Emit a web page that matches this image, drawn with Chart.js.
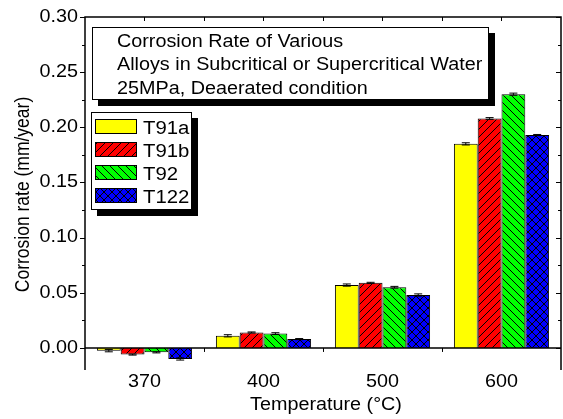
<!DOCTYPE html>
<html><head><meta charset="utf-8">
<script src="https://cdn.jsdelivr.net/npm/chart.js@4.4.0/dist/chart.umd.min.js"></script>
<style>html,body{margin:0;padding:0;background:#fff;overflow:hidden}#wrap{width:563px;height:419px}</style>
</head><body><div id="wrap"><canvas id="c" width="563" height="419"></canvas></div>
<script>
// ---- data ----
const categories = ['370', '400', '500', '600'];
const seriesNames = ['T91a', 'T91b', 'T92', 'T122'];
const T91a = [-0.0025, 0.011, 0.057, 0.185];
const T91b = [-0.006, 0.014, 0.059, 0.208];
const T92  = [-0.004, 0.013, 0.055, 0.230];
const T122 = [-0.010, 0.008, 0.048, 0.193];
const T91aErr = [0.001, 0.001, 0.001, 0.001];
const T91bErr = [0.0005, 0.0005, 0.0005, 0.0008];
const T92Err  = [0.0005, 0.0008, 0.0008, 0.001];
const T122Err = [0.001, 0.0005, 0.001, 0.0005];
const yTickValues = [0, 0.05, 0.10, 0.15, 0.20, 0.25, 0.30];
const yTickLabels = ['0.00', '0.05', '0.10', '0.15', '0.20', '0.25', '0.30'];
const boxLines = ['Corrosion Rate of Various', 'Alloys in Subcritical or Supercritical Water', '25MPa, Deaerated condition'];
const xTitle = 'Temperature (\u00B0C)';
const yTitle = 'Corrosion rate (mm/year)';

const FONT = '"Liberation Sans", Arial, sans-serif';
const SX = 1.13;

function mkPattern(bg, kind) {
  const s = 8, c = document.createElement('canvas');
  c.width = s; c.height = s;
  const g = c.getContext('2d');
  g.fillStyle = bg; g.fillRect(0, 0, s, s);
  g.fillStyle = '#000';
  for (let i = 0; i < s; i++) {
    if (kind === 'fwd' || kind === 'cross') g.fillRect(i, s - 1 - i, 1, 1);
    if (kind === 'back' || kind === 'cross') g.fillRect(i, i, 1, 1);
  }
  return g.createPattern(c, 'repeat');
}
const fills = [mkPattern('#FFFF00', null), mkPattern('#FF0000', 'fwd'), mkPattern('#00FF00', 'back'), mkPattern('#0000FF', 'cross')];
const values = [T91a, T91b, T92, T122];
const errs = [T91aErr, T91bErr, T92Err, T122Err];

function txt(ctx, s, x, y, size, align, base, rot) {
  ctx.save();
  ctx.translate(x, y);
  if (rot) { ctx.rotate(rot); ctx.scale(1, SX); } else { ctx.scale(SX, 1); }
  ctx.font = size + 'px ' + FONT;
  ctx.fillStyle = '#000';
  ctx.textAlign = align; ctx.textBaseline = base;
  ctx.fillText(s, 0, 0);
  ctx.restore();
}

const deco = {
  id: 'deco',
  afterDraw(chart) {
    const ctx = chart.ctx, a = chart.chartArea;
    const xs = chart.scales.x, ys = chart.scales.y;
    const L = a.left, R = a.right, T = a.top, B = a.bottom;
    const y0 = ys.getPixelForValue(0);
    ctx.save();
    ctx.strokeStyle = '#000';
    // error bars
    ctx.lineWidth = 1;
    chart.data.datasets.forEach((ds, di) => {
      const meta = chart.getDatasetMeta(di);
      meta.data.forEach((el, i) => {
        const v = values[di][i], e = errs[di][i];
        const yt = ys.getPixelForValue(v + e), yb = ys.getPixelForValue(v - e);
        ctx.beginPath();
        ctx.moveTo(el.x, yt); ctx.lineTo(el.x, yb);
        ctx.moveTo(el.x - 4, yt); ctx.lineTo(el.x + 4, yt);
        ctx.moveTo(el.x - 4, yb); ctx.lineTo(el.x + 4, yb);
        ctx.stroke();
      });
    });
    // frame
    ctx.lineWidth = 1.5;
    ctx.beginPath();
    ctx.moveTo(L, B); ctx.lineTo(L, T); ctx.lineTo(R, T); ctx.lineTo(R, B);
    ctx.moveTo(L, y0); ctx.lineTo(R, y0);
    ctx.stroke();
    ctx.lineWidth = 1;
    ctx.beginPath();
    for (let k = 0; k <= 12; k++) {
      const v = k * 0.025;
      const py = Math.round(ys.getPixelForValue(v)) + 0.5;
      const major = k % 2 === 0;
      ctx.moveTo(L, py); ctx.lineTo(L - (major ? 5 : 3), py);
      ctx.moveTo(R, py); ctx.lineTo(R - (major ? 5 : 3), py);
    }
    // x ticks
    const n = categories.length;
    const half = (xs.getPixelForValue(1) - xs.getPixelForValue(0)) / 2;
    for (let i = 0; i < n; i++) {
      const cx = xs.getPixelForValue(i);
      ctx.moveTo(cx, T); ctx.lineTo(cx, T + 4);
      if (i > 0) {
        const bx = Math.round(cx - half) + 0.5;
        ctx.moveTo(bx, T); ctx.lineTo(bx, T + 4);
        ctx.moveTo(bx, y0); ctx.lineTo(bx, y0 + 4);
      }
    }
    ctx.stroke();
    // tick labels
    yTickValues.forEach((v, i) => txt(ctx, yTickLabels[i], L - 7, ys.getPixelForValue(v), 17.5, 'right', 'middle'));
    categories.forEach((c, i) => txt(ctx, c, xs.getPixelForValue(i), 387, 17.5, 'center', 'alphabetic'));
    // axis titles
    txt(ctx, xTitle, (L + R) / 2 + 3, 410, 17.5, 'center', 'alphabetic');
    txt(ctx, yTitle, 24, (T + B) / 2 + 1, 17.5, 'center', 'middle', -Math.PI / 2);
    // annotation box
    ctx.fillStyle = '#000';
    ctx.fillRect(98, 33, 397, 73);
    ctx.fillStyle = '#fff';
    ctx.fillRect(92, 27, 397, 73);
    ctx.strokeRect(92.5, 27.5, 396, 72);
    boxLines.forEach((s, i) => txt(ctx, s, 117, 46.5 + i * 23.8, 17.5, 'left', 'alphabetic'));
    // legend
    ctx.fillStyle = '#000';
    ctx.fillRect(97, 118, 101, 98);
    ctx.fillStyle = '#fff';
    ctx.fillRect(91, 112, 101, 98);
    ctx.strokeRect(91.5, 112.5, 100, 97);
    seriesNames.forEach((s, i) => {
      const ty = Math.round(119 + i * 23.1);
      ctx.fillStyle = fills[i];
      ctx.fillRect(95, ty, 42, 15);
      ctx.strokeRect(95.5, ty + 0.5, 41, 14);
      txt(ctx, s, 143, ty + 15, 18, 'left', 'alphabetic');
    });
    ctx.restore();
  }
};

new Chart(document.getElementById('c'), {
  type: 'bar',
  data: {
    labels: categories,
    datasets: seriesNames.map((name, i) => ({
      label: name,
      data: values[i],
      backgroundColor: fills[i],
      borderColor: '#000',
      borderWidth: 1,
      barPercentage: 1.0,
      categoryPercentage: 0.8
    }))
  },
  options: {
    responsive: false,
    animation: false,
    devicePixelRatio: 1,
    layout: { padding: { top: 17, right: 2, left: 0, bottom: 0 } },
    plugins: { legend: { display: false }, tooltip: { enabled: false }, title: { display: false } },
    scales: {
      x: {
        type: 'category', offset: true,
        grid: { display: false, drawTicks: false }, border: { display: false },
        ticks: { display: false },
        afterFit(s) { s.height = 49; }
      },
      y: {
        min: -0.02, max: 0.30,
        grid: { display: false, drawTicks: false }, border: { display: false },
        ticks: { display: false, stepSize: 0.05 },
        afterFit(s) { s.width = 85; }
      }
    }
  },
  plugins: [deco]
});
</script>
</body></html>
